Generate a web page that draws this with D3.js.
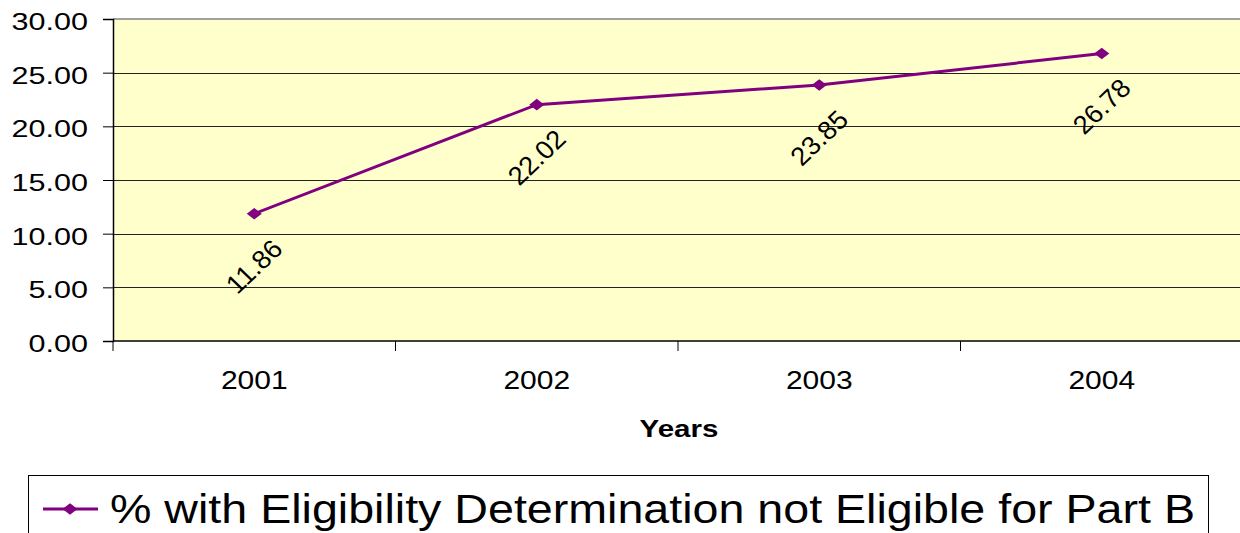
<!DOCTYPE html>
<html>
<head>
<meta charset="utf-8">
<script src="https://cdn.jsdelivr.net/npm/d3@7/dist/d3.min.js"></script>
<style>
  html, body { margin: 0; padding: 0; background: #fff; }
  svg { display: block; font-family: "Liberation Sans", Arial, sans-serif; }
</style>
</head>
<body>
<svg id="chart" width="1240" height="533"></svg>
<script>
// Series data
const years = ["2001", "2002", "2003", "2004"];
const values = [11.86, 22.02, 23.85, 26.78];
const yTicks = [0, 5, 10, 15, 20, 25, 30];
const seriesName = "% with Eligibility Determination not Eligible for Part B";
const xTitle = "Years";

const svg = d3.select("#chart");
const plot = { left: 113, top: 19, right: 1243, bottom: 341 };

const x = d3.scaleBand().domain(years).range([plot.left, plot.right]);
const y = d3.scaleLinear().domain([0, 30]).range([plot.bottom, plot.top]);
const fmt = d3.format(".2f");

// Wide diamond marker
const wideDiamond = {
  draw(ctx, size) {
    const w = 7.5, h = 5.8;
    ctx.moveTo(0, -h); ctx.lineTo(w, 0); ctx.lineTo(0, h); ctx.lineTo(-w, 0); ctx.closePath();
  }
};
const marker = d3.symbol().type(wideDiamond);

// Plot background
svg.append("rect")
  .attr("x", plot.left).attr("y", plot.top)
  .attr("width", plot.right - plot.left).attr("height", plot.bottom - plot.top)
  .attr("fill", "#ffffcc");

// Horizontal gridlines
svg.append("g").selectAll("line")
  .data(yTicks.filter(d => d > 0 && d < 30))
  .join("line")
  .attr("x1", plot.left).attr("x2", plot.right)
  .attr("y1", d => Math.round(y(d)) + 0.5).attr("y2", d => Math.round(y(d)) + 0.5)
  .attr("stroke", "#222").attr("stroke-width", 1);

// Top border of the plot area
svg.append("line")
  .attr("x1", plot.left).attr("x2", plot.right)
  .attr("y1", plot.top).attr("y2", plot.top)
  .attr("stroke", "#a0a0a0").attr("stroke-width", 2);

// Y axis line and ticks
const yAxis = svg.append("g")
  .attr("transform", `translate(${plot.left},0)`)
  .call(d3.axisLeft(y).tickValues(yTicks).tickFormat("").tickSize(10));
yAxis.select(".domain").attr("stroke", "#000").attr("stroke-width", 1.5);
yAxis.selectAll(".tick line").attr("stroke", "#000");

// Y tick labels (horizontally widened type)
svg.append("g").selectAll("text")
  .data(yTicks)
  .join("text")
  .attr("transform", d => `translate(88,${y(d) + 11}) scale(1.3,1)`)
  .attr("text-anchor", "end")
  .attr("font-size", 23.5)
  .attr("fill", "#000")
  .text(d => fmt(d));

// X axis with ticks between categories
const xAxis = svg.append("g")
  .attr("transform", `translate(0,${plot.bottom})`);
xAxis.append("line")
  .attr("x1", plot.left).attr("x2", plot.right)
  .attr("stroke", "#000").attr("stroke-width", 1.5);
xAxis.selectAll(".sep")
  .data(years.map(d => x(d)).concat([plot.right]))
  .join("line")
  .attr("class", "sep")
  .attr("x1", d => d).attr("x2", d => d)
  .attr("y1", 0).attr("y2", 10)
  .attr("stroke", "#000");
xAxis.selectAll(".lbl")
  .data(years)
  .join("text")
  .attr("class", "lbl")
  .attr("transform", d => `translate(${x(d) + x.bandwidth() / 2},48) scale(1.2,1)`)
  .attr("text-anchor", "middle")
  .attr("font-size", 25)
  .text(d => d);

// X axis title
svg.append("text")
  .attr("transform", `translate(${(plot.left + plot.right) / 2 + 1},437) scale(1.23,1)`)
  .attr("text-anchor", "middle")
  .attr("font-size", 24)
  .attr("font-weight", "bold")
  .text(xTitle);

// Series line
const cx = (d, i) => x(years[i]) + x.bandwidth() / 2;
const line = d3.line().x((d, i) => cx(d, i)).y(d => y(d));
svg.append("path")
  .datum(values)
  .attr("d", line)
  .attr("fill", "none")
  .attr("stroke", "#800080")
  .attr("stroke-width", 3);

// Diamond markers
svg.append("g").selectAll("path")
  .data(values)
  .join("path")
  .attr("d", marker)
  .attr("transform", (d, i) => `translate(${cx(d, i)},${y(d)})`)
  .attr("fill", "#800080");

// Rotated value labels below each point
svg.append("g").selectAll("text")
  .data(values)
  .join("text")
  .attr("transform", (d, i) => `translate(${cx(d, i)},${y(d) + 53}) scale(1.05,1) rotate(-45)`)
  .attr("text-anchor", "middle")
  .attr("dominant-baseline", "central")
  .attr("font-size", 26)
  .attr("fill", "#000")
  .text(d => fmt(d));

// Legend
const legend = svg.append("g");
legend.append("rect")
  .attr("x", 28.5).attr("y", 475.5)
  .attr("width", 1180).attr("height", 80)
  .attr("fill", "#fff").attr("stroke", "#000").attr("stroke-width", 1);
legend.append("line")
  .attr("x1", 43).attr("x2", 98).attr("y1", 509).attr("y2", 509)
  .attr("stroke", "#800080").attr("stroke-width", 3);
legend.append("path")
  .attr("d", marker)
  .attr("transform", "translate(70,509)")
  .attr("fill", "#800080");
legend.append("text")
  .attr("x", 110).attr("y", 523)
  .attr("font-size", 40)
  .attr("textLength", 1085)
  .attr("lengthAdjust", "spacingAndGlyphs")
  .text(seriesName);
</script>
</body>
</html>
